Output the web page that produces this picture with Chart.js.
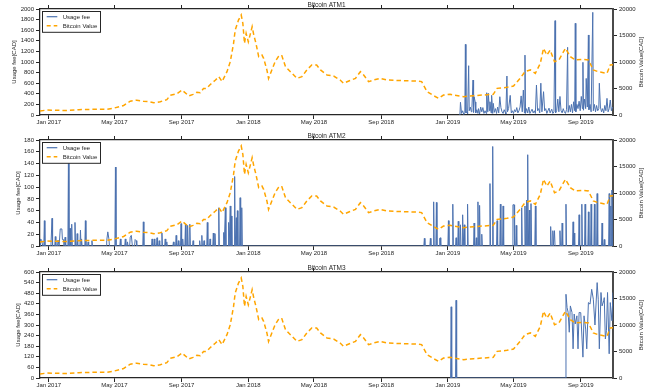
<!DOCTYPE html>
<html><head><meta charset="utf-8">
<script src="https://cdn.jsdelivr.net/npm/chart.js@4.4.1/dist/chart.umd.min.js"></script>
<style>
html,body{margin:0;padding:0;background:#fff;overflow:hidden;width:651px;height:392px;}
.wrap{position:absolute;left:0;width:651px;height:131px;}
canvas{display:block;}
</style></head><body>
<div class="wrap" style="top:0px"><canvas id="c1" width="651" height="131"></canvas></div>
<div class="wrap" style="top:131px"><canvas id="c2" width="651" height="131"></canvas></div>
<div class="wrap" style="top:263px"><canvas id="c3" width="651" height="131"></canvas></div>
<script>
// ---- x axis (days since 1 Jan 2017) ----
const xMinDay = -16, xMaxDay = 1032;
const tickDays   = [0, 120, 243, 365, 485, 608, 730, 850, 973];
const tickLabels = ['Jan 2017','May 2017','Sep 2017','Jan 2018','May 2018','Sep 2018','Jan 2019','May 2019','Sep 2019'];

const titles = ['Bitcoin ATM1', 'Bitcoin ATM2', 'Bitcoin ATM3'];
const seriesNames = ['Usage fee', 'Bitcoin Value'];
const leftAxisTitle = 'Usage fee[CAD]';
const rightAxisTitle = 'Bitcoin Value[CAD]';

// ---- Bitcoin value (CAD), shared by all three panels ----
const btcDays = [-16,-3,10,33,55,70,94,105,119,130,137,149,161,173,185,192,204,216,222,234,244,256,264,271,277,283,289,295,305,311,317,326,332,338,341,347,352,355,358,361,365,369,372,375,379,384,390,393,399,402,408,414,420,426,433,442,454,463,472,481,490,497,509,521,533,539,551,561,570,576,585,594,606,619,643,673,682,692,704,713,722,734,740,759,777,795,813,820,838,850,862,871,881,890,899,905,911,917,925,933,945,954,963,975,987,996,1005,1021,1027,1032];
const btcValues = [760,940,900,850,1000,1050,1100,1050,1300,1600,1800,2600,2800,2600,2500,2300,2500,2900,3700,4000,4700,3600,3900,4300,4200,5000,5030,5700,6600,7230,6300,8170,10060,13500,16000,17900,18870,17300,13500,15400,13800,15400,16650,15100,13500,11000,11300,10700,8500,6900,8500,10060,11000,11300,9120,8170,6920,7230,8500,9430,9430,8500,7550,7360,6600,6000,6500,6920,8170,7550,6300,6600,6920,6600,6500,6400,6300,4400,3650,3150,3770,3900,3770,3460,3650,3770,3900,5030,5220,5470,6900,8170,8500,7860,9750,12580,11300,12260,10060,10380,12580,11000,10380,10500,10380,8500,8170,7860,9430,9500];

// ---- Usage fee (CAD), [day, fee] ----
const atm1Fee = [[752,0],[753,240],[755,30],[757,80],[759,10],[761,50],[762,1333],[763,40],[765,60],[766,20],[768,930],[769,80],[771,150],[773,60],[774,140],[776,660],[777,50],[778,345],[780,245],[781,40],[783,100],[785,30],[786,120],[788,20],[790,150],[792,60],[794,140],[796,30],[798,80],[800,30],[801,420],[803,60],[804,410],[806,80],[807,250],[809,40],[810,370],[812,30],[813,220],[815,50],[817,120],[819,30],[821,150],[823,40],[825,345],[827,140],[829,60],[831,30],[833,100],[835,50],[836,20],[838,735],[839,60],[841,120],[844,370],[846,40],[848,80],[850,30],[852,100],[854,60],[856,140],[858,40],[860,80],[862,150],[864,360],[866,60],[868,470],[870,40],[871,1130],[872,30],[874,120],[876,40],[878,150],[880,30],[882,70],[884,110],[886,40],[888,80],[890,30],[892,566],[894,80],[896,120],[898,40],[900,600],[902,60],[905,440],[907,80],[909,120],[911,30],[913,80],[915,130],[917,40],[920,110],[922,30],[924,60],[926,1780],[927,40],[929,80],[931,300],[933,60],[935,350],[937,80],[939,40],[941,120],[943,60],[945,30],[947,100],[949,1277],[950,50],[952,180],[954,60],[956,200],[958,40],[960,250],[962,80],[963,1730],[964,60],[966,200],[968,120],[970,260],[972,80],[974,350],[976,120],[977,994],[978,90],[980,300],[982,120],[983,690],[985,150],[987,1510],[988,100],[990,200],[992,60],[995,1937],[996,80],[998,200],[1000,60],[1002,180],[1004,80],[1006,120],[1007,600],[1009,150],[1011,60],[1013,120],[1015,40],[1017,180],[1019,80],[1021,314],[1023,60],[1025,120],[1027,283],[1029,80],[1031,150]];

const atm2Fee = [[-16,0],[-15,12],[-13,10],[-11,0],[-9,0],[-8,43],[-7,0],[4,0],[6,47],[7,0],[11,0],[12,16],[13,0],[16,0],[17,10],[19,0],[20,0],[21,29],[24,29],[25,11],[27,11],[28,0],[29,0],[30,15],[31,0],[35,0],[36,145],[37,0],[38,30],[39,30],[40,0],[41,0],[42,37],[43,0],[47,0],[48,40],[49,0],[51,0],[52,21],[53,0],[57,0],[58,27],[59,0],[60,12],[61,0],[66,0],[67,43],[68,0],[71,0],[72,7],[73,0],[78,0],[79,9],[80,0],[105,0],[106,9],[108,24],[110,12],[111,0],[121,0],[122,134],[123,0],[130,0],[131,12],[132,0],[139,0],[140,12],[141,0],[143,0],[144,7],[145,0],[148,0],[149,15],[151,18],[153,0],[157,0],[158,11],[160,9],[161,0],[172,0],[173,41],[174,0],[188,0],[189,12],[190,0],[192,0],[193,12],[194,0],[197,0],[198,14],[199,0],[201,0],[202,9],[203,0],[206,0],[207,22],[208,0],[212,0],[213,12],[214,0],[216,7],[217,0],[227,0],[228,7],[229,0],[232,0],[233,18],[234,0],[236,0],[237,9],[238,0],[241,0],[242,38],[243,0],[244,0],[245,12],[246,0],[249,0],[250,37],[251,0],[253,0],[254,35],[255,0],[257,0],[258,37],[259,0],[263,0],[264,9],[265,0],[275,0],[276,9],[277,0],[279,0],[280,18],[281,0],[283,0],[284,9],[285,0],[289,0],[290,40],[291,0],[294,0],[295,12],[296,0],[300,0],[301,22],[302,0],[303,0],[304,21],[305,0],[310,0],[311,65],[312,0],[319,0],[320,23],[321,0],[322,0],[323,65],[324,0],[328,0],[329,40],[330,0],[331,0],[332,68],[333,0],[334,51],[335,0],[339,0],[340,118],[341,0],[342,0],[343,48],[344,0],[345,60],[346,0],[349,0],[350,82],[351,0],[352,0],[353,65],[354,0],[686,0],[687,13],[688,0],[697,0],[698,13],[699,0],[703,0],[704,75],[705,0],[708,0],[709,74],[710,0],[714,0],[715,13],[716,14],[717,0],[730,0],[731,43],[732,0],[738,0],[739,71],[740,0],[744,0],[745,14],[746,0],[748,0],[749,42],[750,0],[752,0],[753,36],[754,0],[756,0],[757,53],[758,0],[759,0],[760,36],[761,0],[765,0],[766,71],[767,0],[777,0],[778,39],[779,0],[781,0],[782,14],[783,0],[784,0],[785,75],[786,0],[787,0],[788,69],[789,0],[791,0],[792,20],[793,0],[806,0],[807,106],[808,0],[811,0],[812,169],[813,0],[819,0],[820,43],[821,0],[825,0],[826,71],[827,0],[830,0],[831,68],[832,0],[848,0],[849,70],[851,70],[852,0],[854,0],[855,35],[856,0],[864,0],[865,65],[866,0],[870,0],[871,68],[872,0],[873,0],[874,78],[875,0],[876,155],[877,0],[878,0],[879,61],[880,0],[881,0],[882,72],[883,0],[889,0],[890,68],[891,0],[917,0],[918,33],[919,0],[921,0],[922,26],[923,0],[924,0],[925,26],[926,0],[934,0],[935,26],[936,0],[938,0],[939,39],[940,0],[945,0],[946,71],[947,0],[958,0],[959,41],[960,0],[961,22],[962,0],[969,0],[970,53],[971,0],[974,0],[975,71],[976,0],[980,0],[981,71],[982,0],[986,0],[987,58],[988,0],[991,0],[992,71],[993,0],[997,0],[998,71],[999,0],[1002,0],[1003,89],[1004,0],[1011,0],[1012,39],[1013,0],[1015,0],[1016,11],[1017,0],[1024,0],[1025,89],[1026,0],[1027,0],[1028,68],[1029,0],[1030,95],[1031,0]];

const atm3Fee = [[735,0],[736,403],[737,0],[744,0],[745,440],[746,0],[945,0],[946,474],[948,399],[950,371],[952,259],[954,408],[957,371],[959,165],[961,362],[963,306],[966,352],[968,165],[970,371],[973,370],[977,118],[979,352],[982,277],[984,165],[987,427],[990,418],[993,502],[996,446],[999,300],[1003,540],[1005,446],[1007,165],[1010,484],[1012,408],[1015,437],[1016,455],[1018,221],[1020,268],[1022,484],[1025,137],[1027,427],[1030,324],[1032,484]];

// ---- left axis ranges per panel ----
const feeMax  = [2000, 180, 600];
const feeStep = [200, 20, 60];
const btcMax = 20000, btcStep = 5000;

// ---- style ----
const FONT = '"Liberation Sans", Arial, sans-serif';
const TEXT = '#262626';
const FEE_COLOR = '#4C72B0';
const BTC_COLOR = '#FFA500';

const decor = {
  id: 'decor',
  afterDraw(chart, args, o) {
    const {ctx, chartArea: a} = chart;
    ctx.save();
    ctx.fillStyle = TEXT;
    ctx.font = '6.5px ' + FONT;
    ctx.textAlign = 'center';
    ctx.textBaseline = 'alphabetic';
    ctx.fillText(o.title, (a.left + a.right) / 2, a.top - 2.3);
    ctx.font = '6px ' + FONT;
    ctx.textBaseline = 'middle';
    const cy = (a.top + a.bottom) / 2;
    ctx.save(); ctx.translate(o.leftX, cy); ctx.rotate(-Math.PI / 2); ctx.fillText(leftAxisTitle, 0, 0); ctx.restore();
    ctx.save(); ctx.translate(o.rightX, cy); ctx.rotate(-Math.PI / 2); ctx.fillText(rightAxisTitle, 0, 0); ctx.restore();
    // legend box
    const lx = a.left + 2.5, ly = a.top + 2.5, w = 58, h = 20.8;
    ctx.fillStyle = '#fff';
    ctx.fillRect(lx, ly, w, h);
    ctx.strokeStyle = TEXT; ctx.lineWidth = 1;
    ctx.strokeRect(lx, ly, w, h);
    ctx.lineWidth = 1.2; ctx.strokeStyle = FEE_COLOR;
    ctx.beginPath(); ctx.moveTo(lx + 4.2, ly + 5.2); ctx.lineTo(lx + 14.8, ly + 5.2); ctx.stroke();
    ctx.lineWidth = 1.5; ctx.strokeStyle = BTC_COLOR; ctx.setLineDash([4, 3]);
    ctx.beginPath(); ctx.moveTo(lx + 4.2, ly + 14.2); ctx.lineTo(lx + 14.8, ly + 14.2); ctx.stroke();
    ctx.setLineDash([]);
    ctx.fillStyle = TEXT; ctx.textAlign = 'left'; ctx.textBaseline = 'middle';
    ctx.fillText(seriesNames[0], lx + 20.2, ly + 5.4);
    ctx.fillText(seriesNames[1], lx + 20.2, ly + 14.4);
    ctx.restore();
  }
};

function xAxis(pos) {
  return {
    type: 'linear', position: pos, min: xMinDay, max: xMaxDay,
    afterBuildTicks: s => { s.ticks = tickDays.map(v => ({value: v})); },
    afterFit: s => { s.height = pos === 'bottom' ? 16 : 0; },
    ticks: {
      autoSkip: false, maxRotation: 0, minRotation: 0, padding: 0, color: TEXT,
      font: {family: FONT, size: 6},
      callback: v => pos === 'bottom' ? tickLabels[tickDays.indexOf(v)] : ''
    },
    grid: {drawOnChartArea: false, drawTicks: true, tickLength: 4, tickColor: TEXT, tickWidth: 1, color: TEXT},
    border: {display: true, color: TEXT, width: 1.25}
  };
}

function makeChart(id, idx, feeData, leftX) {
  const btcPoints = btcDays.map((d, i) => ({x: d, y: btcValues[i]}));
  const feePoints = feeData.map(p => ({x: p[0], y: p[1]}));
  new Chart(document.getElementById(id), {
    type: 'line',
    data: {
      datasets: [
        {label: seriesNames[1], data: btcPoints, yAxisID: 'y1', xAxisID: 'x',
         borderColor: BTC_COLOR, borderDash: [4.5, 3], borderWidth: 1.5,
         pointRadius: 0, tension: 0, fill: false, order: 0},
        {label: seriesNames[0], data: feePoints, yAxisID: 'y', xAxisID: 'x',
         borderColor: FEE_COLOR, borderWidth: 1, pointRadius: 0, tension: 0,
         fill: false, order: 1}
      ]
    },
    options: {
      responsive: false, animation: false, devicePixelRatio: 1, events: [],
      layout: {padding: {top: 9, left: 0, right: 0, bottom: 0}},
      plugins: {legend: {display: false}, tooltip: {enabled: false},
        decor: {title: titles[idx], leftX: leftX, rightX: 641}},
      scales: {
        x: xAxis('bottom'),
        xTop: xAxis('top'),
        y: {
          position: 'left', min: 0, max: feeMax[idx],
          afterFit: s => { s.width = 40; },
          ticks: {stepSize: feeStep[idx], padding: 2, color: TEXT, font: {family: FONT, size: 6},
                  callback: v => String(v)},
          grid: {drawOnChartArea: false, drawTicks: true, tickLength: 4, tickColor: TEXT, color: TEXT},
          border: {display: true, color: TEXT, width: 1.25}
        },
        y1: {
          position: 'right', min: 0, max: btcMax,
          afterFit: s => { s.width = 38; },
          ticks: {stepSize: btcStep, padding: 2, color: TEXT, font: {family: FONT, size: 6},
                  callback: v => String(v)},
          grid: {drawOnChartArea: false, drawTicks: true, tickLength: 4, tickColor: TEXT, color: TEXT},
          border: {display: true, color: '#4a4a4a', width: 2}
        }
      }
    },
    plugins: [decor]
  });
}

makeChart('c1', 0, atm1Fee, 14.5);
makeChart('c2', 1, atm2Fee, 18);
makeChart('c3', 2, atm3Fee, 18);
</script>
</body></html>
